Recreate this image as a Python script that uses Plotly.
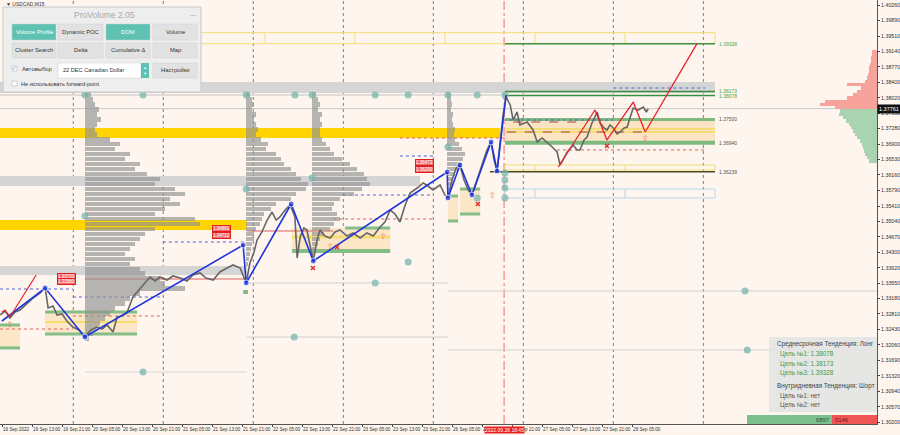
import plotly.graph_objects as go

# ---------------- data ----------------
# x unit: trading hours counted from 19 Sep 2022 00:00 (weekend removed)
tick_hours = [5, 13, 21, 29, 37, 45, 53, 61, 69, 77, 85, 93, 101, 109, 117, 125, 133, 141, 149, 157, 165, 173]
tick_labels = ["19 Sep 2022", "19 Sep 13:00", "19 Sep 21:00", "20 Sep 05:00", "20 Sep 13:00", "20 Sep 21:00",
               "21 Sep 05:00", "21 Sep 13:00", "21 Sep 21:00", "22 Sep 05:00", "22 Sep 13:00", "22 Sep 21:00",
               "23 Sep 05:00", "23 Sep 13:00", "23 Sep 21:00", "26 Sep 05:00", "26 Sep 13:00", "26 Sep 21:00",
               "27 Sep 05:00", "27 Sep 13:00", "27 Sep 21:00", "28 Sep 05:00"]
day_breaks = [24, 48, 72, 96, 120, 144, 168, 192]
price_ticks = [1.40260, 1.39890, 1.39510, 1.39140, 1.38770, 1.38400, 1.38020, 1.37650, 1.37280, 1.36900,
               1.36530, 1.36160, 1.35790, 1.35410, 1.35040, 1.34670, 1.34300, 1.33920, 1.33550, 1.33180,
               1.32810, 1.32430, 1.32060, 1.31690, 1.31320, 1.30940, 1.30570, 1.30200]

price_t = [4.5, 5.8, 7.1, 8.5, 9.8, 11.7, 13.3, 15.1, 16.5, 17.3, 18.6, 19.7, 21.0, 22.3, 23.9, 25.5, 27.1,
           28.7, 30.3, 31.7, 33.0, 34.6, 35.7, 37.0, 38.3, 39.9, 41.8, 43.1, 44.5, 45.8, 47.1, 49.0, 50.6,
           52.5, 54.3, 55.9, 57.8, 59.4, 61.3, 63.1, 65.0, 66.6, 68.5, 69.3, 70.1, 71.1, 72.2, 73.0, 74.3,
           75.7, 77.0, 78.1, 79.1, 80.5, 81.8, 82.6, 83.1, 83.7, 84.5, 85.5, 86.3, 87.1, 88.0, 89.0, 89.8,
           91.1, 92.5, 93.8, 95.1, 97.0, 98.6, 100.5, 102.3, 104.0, 105.8, 107.1, 108.5, 109.8, 111.1, 112.5,
           113.8, 115.7, 117.3, 118.6, 119.9, 121.8, 123.1, 123.9, 125.0, 126.1, 127.1, 128.2, 129.3, 130.3,
           131.7, 133.0, 134.3, 135.4, 136.2, 137.0, 137.8, 138.6, 139.4, 140.5, 141.3, 142.3, 143.1, 145.0,
           146.6, 147.7, 149.0, 150.3, 151.7, 153.0, 153.8, 154.9, 155.7, 157.3, 158.3, 159.1, 160.2, 161.0,
           162.3, 163.7, 164.5, 165.5, 166.3, 167.1, 168.0, 169.0, 169.8, 170.9, 171.7, 172.5, 173.3, 174.6,
           176.0, 176.8, 177.3]
price_v = [1.32783, 1.32879, 1.32710, 1.32855, 1.32903, 1.33072, 1.33193, 1.33313, 1.33434, 1.32952, 1.33000,
           1.32783, 1.32807, 1.32638, 1.32493, 1.32421, 1.32252, 1.32421, 1.32493, 1.32445, 1.32542, 1.32373,
           1.32735, 1.32759, 1.32831, 1.33217, 1.33434, 1.33555, 1.33699, 1.33603, 1.33699, 1.33627, 1.33724,
           1.33675, 1.33603, 1.33748, 1.33796, 1.33675, 1.33627, 1.33820, 1.33916, 1.33989, 1.33916, 1.33724,
           1.33555, 1.34037, 1.34302, 1.34592, 1.34785, 1.35074, 1.35267, 1.35074, 1.35147, 1.35315, 1.35436,
           1.35267, 1.35147, 1.34158, 1.34664, 1.34881, 1.34833, 1.34471, 1.34085, 1.34592, 1.34833, 1.34688,
           1.34640, 1.34785, 1.34833, 1.34688, 1.34761, 1.34640, 1.34761, 1.34688, 1.34905, 1.35026, 1.35315,
           1.35219, 1.35026, 1.35436, 1.35725, 1.35846, 1.35967, 1.35894, 1.35798, 1.35918, 1.35677, 1.35605,
           1.36039, 1.36328, 1.36401, 1.36039, 1.35798, 1.35677, 1.36039, 1.36401, 1.36763, 1.36956, 1.36521,
           1.36256, 1.37004, 1.37607, 1.38041, 1.37848, 1.37486, 1.37679, 1.37366, 1.37438, 1.37245, 1.36956,
           1.37052, 1.36956, 1.36835, 1.36714, 1.36401, 1.36570, 1.36714, 1.36883, 1.36763, 1.36763, 1.37004,
           1.37076, 1.37414, 1.37679, 1.37414, 1.37293, 1.37245, 1.37366, 1.37293, 1.37149, 1.37197, 1.37293,
           1.37317, 1.37559, 1.37776, 1.37727, 1.37800, 1.37679, 1.37761]
last_price = 1.37761

zz_t = [5.0, 16.5, 27.1, 69.3, 70.1, 82.1, 88.0, 123.7, 123.9, 127.1, 130.3, 135.4, 137.0, 139.4]
zz_v = [1.32638, 1.33434, 1.32252, 1.34471, 1.33555, 1.35460, 1.34085, 1.36232, 1.35605, 1.36401,
        1.35677, 1.36956, 1.36256, 1.38089]

fc_t = [153.3, 163.1, 166.3, 173.3, 176.5, 190.3]
fc_v = [1.36353, 1.37727, 1.37004, 1.37920, 1.37197, 1.39328]
fc0_t = [5.0, 5.8, 7.1, 14.1]
fc0_v = [1.32855, 1.32903, 1.32735, 1.33748]

dot_t = [27.1, 42.6, 70.1, 83.1, 87.7, 104.5, 113.3, 123.9, 131.7, 139.1, 27.1, 70.1, 87.7, 123.9, 139.1,
         139.1, 139.1, 139.1, 131.7, 113.3, 104.5, 82.9, 42.6, 203.1, 203.7]
dot_v = [1.38089, 1.38089, 1.38089, 1.38089, 1.38089, 1.38089, 1.38089, 1.38089, 1.38089, 1.38089, 1.35171,
         1.35822, 1.36087, 1.36835, 1.36208, 1.36039, 1.35846, 1.35605, 1.35605, 1.34061, 1.33555, 1.32252,
         1.31408, 1.33362, 1.31939]

cross_t = [87.9, 94.3, 131.9, 166.3]
cross_v = [1.33917, 1.34423, 1.35460, 1.36859]
arrow_t = [7.1, 92.5, 106.6, 135.7, 176.5]
arrow_v = [1.32542, 1.34423, 1.34664, 1.35653, 1.37028]

# volume profiles (shared price bins, widths in volume units)
prof_levels = [1.3810, 1.3798, 1.3786, 1.3774, 1.3762, 1.3750, 1.3738, 1.3726, 1.3714, 1.3702, 1.3690, 1.3678,
               1.3666, 1.3654, 1.3642, 1.3630, 1.3618, 1.3606, 1.3594, 1.3582, 1.3570, 1.3558, 1.3546, 1.3534,
               1.3522, 1.3510, 1.3498, 1.3486, 1.3474, 1.3462, 1.3450, 1.3438, 1.3426, 1.3414, 1.3402, 1.3390,
               1.3378, 1.3366, 1.3354, 1.3342, 1.3330, 1.3318, 1.3306, 1.3294, 1.3282, 1.3270, 1.3258, 1.3246,
               1.3234, 1.3222]
profA_vol = [6, 8, 10, 14, 12, 16, 12, 10, 12, 25, 35, 30, 45, 40, 55, 50, 62, 75, 70, 90, 100, 85, 95, 80, 70,
             110, 115, 70, 60, 55, 50, 45, 40, 50, 45, 55, 60, 75, 80, 100, 55, 45, 40, 30, 25, 20, 15, 12, 8, 4]
profB_vol = [4, 6, 8, 6, 10, 8, 10, 12, 10, 15, 22, 20, 30, 35, 38, 45, 50, 55, 62, 60, 50, 45, 30, 25, 18,
             16, 14, 10, 8, 8, 6, 5, 4, 3, 2, 0, 0, 0, 0, 0, 0, 0, 0, 0, 0, 0, 0, 0, 0, 0]
profC_vol = [4, 6, 8, 6, 10, 8, 10, 8, 8, 10, 14, 18, 22, 30, 38, 45, 52, 55, 58, 50, 42, 28, 22, 20, 25,
             28, 22, 18, 12, 8, 6, 4, 3, 2, 0, 0, 0, 0, 0, 0, 0, 0, 0, 0, 0, 0, 0, 0, 0, 0]
profD_vol = [3, 4, 5, 4, 6, 5, 6, 8, 7, 8, 12, 15, 18, 16, 14, 12, 8, 6, 4, 3, 2, 0, 0, 0, 0,
             0, 0, 0, 0, 0, 0, 0, 0, 0, 0, 0, 0, 0, 0, 0, 0, 0, 0, 0, 0, 0, 0, 0, 0, 0]
prof_starts = [27.1, 70.1, 87.7, 123.7]

dom_ask_levels = [1.3914, 1.3906, 1.3898, 1.3890, 1.3882, 1.3874, 1.3866, 1.3858, 1.3850, 1.3842, 1.3834,
                  1.3826, 1.3818, 1.3810, 1.3802, 1.3794, 1.3786, 1.3778]
dom_ask_vol = [5, 5, 6, 6, 7, 8, 8, 9, 10, 12, 30, 16, 20, 24, 30, 52, 57, 42]
dom_bid_levels = [1.3770, 1.3762, 1.3754, 1.3746, 1.3738, 1.3730, 1.3722, 1.3714, 1.3706, 1.3698, 1.3690,
                  1.3682, 1.3674, 1.3666, 1.3658, 1.3650]
dom_bid_vol = [37, 38, 34, 31, 28, 26, 24, 22, 20, 17, 15, 14, 13, 12, 10, 8]

gray_zones = [(4.47, 195.1, 1.38138, 1.38403), (4.47, 116.5, 1.35894, 1.36135), (4.47, 70.3, 1.33748, 1.33965)]
gold_zones = [(4.47, 137.8, 1.37052, 1.37293), (4.47, 70.3, 1.34833, 1.35074)]
targets = [1.39328, 1.38173, 1.38078]
zone_hi, zone_lo = 1.37500, 1.36940
support_line = 1.36238
target_labels = ["1.39328", "1.38173", "1.38078"]
buy_volume, sell_volume = 6897, 5146
mid_targets = ["1.38078", "1.38173", "1.39328"]

# ---------------- layout constants ----------------
W, H = 900, 435
MR, MB = 23, 11
PW, PH = W - MR, H - MB
X_RANGE = [4.467, 238.3]
Y_RANGE = [1.301537, 1.403806]
HOURS_PER_UNIT = 1 / 3.75
FONT = "Liberation Sans"

def px(x):
    return x / PW

def py(y):
    return 1 - y / PH

shapes, annotations = [], []

def rect(t0, t1, p0, p1, fill, line="rgba(0,0,0,0)", lw=0, layer="below"):
    shapes.append(dict(type="rect", xref="x", yref="y", x0=t0, x1=t1, y0=p0, y1=p1,
                       fillcolor=fill, line=dict(color=line, width=lw), layer=layer))

def seg(t0, t1, p, color, width=1, dash="solid", layer="below"):
    shapes.append(dict(type="line", xref="x", yref="y", x0=t0, x1=t1, y0=p, y1=p,
                       line=dict(color=color, width=width, dash=dash), layer=layer))

def vseg(t, p0, p1, color, width=1):
    shapes.append(dict(type="line", xref="x", yref="y", x0=t, x1=t, y0=p0, y1=p1,
                       line=dict(color=color, width=width), layer="below"))

# bands
for t0, t1, p0, p1 in gray_zones:
    rect(t0, t1, p0, p1, "#D5D5D5")
for t0, t1, p0, p1 in gold_zones:
    rect(t0, t1, p0, p1, "#FFD400")

# thin level lines
seg(4.47, 139.1, 1.38089, "#C4C4C4", 1)
seg(4.47, X_RANGE[1], last_price, "#C8C8C8", 1)
seg(70.3, 124, 1.33555, "#D0D0D0", 1)
seg(70.3, 124, 1.32252, "#D0D0D0", 1)
seg(124, X_RANGE[1], 1.33362, "#D0D0D0", 1)
seg(124, X_RANGE[1], 1.31939, "#D0D0D0", 1)
seg(27.1, 70.3, 1.31408, "#D6D6D6", 1)

# zones (left)
rect(4.47, 9.8, 1.31988, 1.32542, "#FBE6C8")
seg(4.47, 9.8, 1.32542, "#84BD86", 3)
seg(4.47, 9.8, 1.31988, "#84BD86", 3)
rect(16.5, 41.0, 1.32325, 1.32855, "#FBE6C8")
seg(16.5, 41.0, 1.32855, "#84BD86", 3)
seg(16.5, 41.0, 1.32614, "#F5DD70", 2)
seg(16.5, 41.0, 1.32325, "#84BD86", 3)
rect(82.3, 108.5, 1.34327, 1.34881, "#FBE6C8")
seg(96.5, 108.5, 1.34881, "#84BD86", 3)
seg(82.3, 108.5, 1.34664, "#F5DD70", 3)
seg(82.3, 108.5, 1.34327, "#84BD86", 4)
rect(123.9, 126.6, 1.35050, 1.35653, "#FBE6C8")
seg(123.9, 126.6, 1.35653, "#84BD86", 3)
seg(123.9, 126.6, 1.35050, "#84BD86", 3)
rect(127.1, 132.5, 1.35219, 1.35822, "#FBE6C8")
seg(127.1, 132.5, 1.35822, "#84BD86", 3)
seg(127.1, 132.5, 1.35219, "#84BD86", 3)
seg(69.3, 70.6, 1.33338, "#84BD86", 4)

# right zone
rect(57.8, 195.1, targets[0], targets[0] + 0.00265, "rgba(0,0,0,0)", "#F3DE78", 1)
for d in [75.1, 99.1, 123.1, 147.1, 171.1]:
    vseg(d, targets[0], targets[0] + 0.00265, "#F3DE78", 1)
rect(139.1, 195.1, zone_lo, zone_hi, "#FBE4C4")
seg(139.1, 195.1, 1.37270, "#F5DA60", 1.5)
seg(139.1, 195.1, 1.37197, "#F5DA60", 1.5)
seg(139.1, 195.1, zone_hi, "#7DBA80", 3)
seg(139.1, 195.1, zone_lo, "#7DBA80", 4)
for p in targets:
    seg(139.1, 195.1, p, "#3C8F3C", 1.5)
rect(139.1, 195.1, 1.36280, 1.36401, "rgba(0,0,0,0)", "#F3DE78", 1)
rect(139.1, 195.1, 1.35605, 1.35822, "rgba(0,0,0,0)", "#B9D7E6", 1)
for d in [147.1, 171.1]:
    vseg(d, 1.36280, 1.36401, "#F3DE78", 1)
    vseg(d, 1.35605, 1.35822, "#B9D7E6", 1)
seg(135.1, 195.1, support_line, "#4A4A2A", 1.5)

# red / blue helper lines
seg(27.1, 70.3, 1.33651, "#E06060", 1)
seg(70.3, 93.3, 1.34809, "#E06060", 1)
seg(23.9, 47.9, 1.32759, "#E06060", 1, "dot")
seg(4.47, 23.9, 1.32445, "#E06060", 1, "dot")
seg(93.3, 119.9, 1.35099, "#E06060", 1, "dot")
seg(111.1, 139.1, 1.37052, "#E06060", 1, "dot")
seg(153.0, 192.5, 1.36763, "#E06060", 1, "dot")
seg(4.47, 23.9, 1.33410, "#5060E0", 1, "dot")
seg(23.9, 47.9, 1.33217, "#5060E0", 1, "dot")
seg(47.9, 70.3, 1.34544, "#5060E0", 1, "dot")
seg(95.9, 119.9, 1.35677, "#5060E0", 1, "dot")
seg(111.1, 120.0, 1.36618, "#5060E0", 1, "dot")
seg(138.6, 168.0, 1.37486, "#5060E0", 1, "dot")
seg(168.0, 192.5, 1.38258, "#5060E0", 1, "dot")
seg(141.3, 159.7, 1.37438, "#A04040", 1, "dash")
seg(139.6, 177.0, 1.37197, "#A04040", 1, "dash")

# day separators and current-session marker
for d in day_breaks:
    shapes.append(dict(type="line", xref="x", yref="paper", x0=d, x1=d, y0=0, y1=1,
                       line=dict(color="#808080", width=1, dash="dot"), layer="below"))
shapes.append(dict(type="line", xref="x", yref="paper", x0=138.87, x1=138.87, y0=0, y1=1,
                   line=dict(color="#F07070", width=1, dash="dashdot"), layer="below"))

fig = go.Figure()

# volume profiles
for vols, start in zip([profA_vol, profB_vol, profC_vol, profD_vol], prof_starts):
    fig.add_trace(go.Bar(orientation="h", y=prof_levels, x=[v * HOURS_PER_UNIT for v in vols], base=start,
                         width=0.00105, marker=dict(color="rgba(145,145,145,0.66)", line=dict(width=0)),
                         hoverinfo="skip", showlegend=False))
fig.add_trace(go.Bar(orientation="h", y=dom_ask_levels, x=[-v * HOURS_PER_UNIT for v in dom_ask_vol],
                     base=X_RANGE[1], width=0.0008, marker=dict(color="#F7A39C", line=dict(width=0)),
                     hoverinfo="skip", showlegend=False))
fig.add_trace(go.Bar(orientation="h", y=dom_bid_levels, x=[-v * HOURS_PER_UNIT for v in dom_bid_vol],
                     base=X_RANGE[1], width=0.0008, marker=dict(color="#AAD3B2", line=dict(width=0)),
                     hoverinfo="skip", showlegend=False))

# teal dots
fig.add_trace(go.Scatter(x=dot_t, y=dot_v, mode="markers",
                         marker=dict(size=7, color="rgba(120,182,172,0.75)"), hoverinfo="skip", showlegend=False))
# price
fig.add_trace(go.Scatter(x=price_t, y=price_v, mode="lines", line=dict(color="#666666", width=1.6),
                         hoverinfo="skip", showlegend=False))
# zigzag
fig.add_trace(go.Scatter(x=zz_t, y=zz_v, mode="lines+markers", line=dict(color="#1F35DD", width=1.6),
                         marker=dict(size=[0] + [6] * (len(zz_t) - 2) + [0], color="#1F35DD"),
                         hoverinfo="skip", showlegend=False))
# forecast
fig.add_trace(go.Scatter(x=fc_t, y=fc_v, mode="lines", line=dict(color="#E8232B", width=1.3),
                         hoverinfo="skip", showlegend=False))
fig.add_trace(go.Scatter(x=fc0_t, y=fc0_v, mode="lines", line=dict(color="#E8232B", width=1.2),
                         hoverinfo="skip", showlegend=False))
fig.add_trace(go.Scatter(x=cross_t, y=cross_v, mode="markers",
                         marker=dict(symbol="x-thin", size=4, color="#E03030", line=dict(width=1.5, color="#E03030")),
                         hoverinfo="skip", showlegend=False))
fig.add_trace(go.Scatter(x=arrow_t, y=arrow_v, mode="text", text=["⇧"] * len(arrow_t),
                         textfont=dict(size=8, color="#F07A6A", family="DejaVu Sans"),
                         hoverinfo="skip", showlegend=False))

# level labels
lvl_x = 195.7
for txt, p, dy in [(target_labels[0], targets[0], 0), (target_labels[1], targets[1], 1), (target_labels[2], targets[2], -1)]:
    annotations.append(dict(x=lvl_x, y=p, text=txt, showarrow=False, xanchor="left", yanchor="middle",
                            yshift=dy, font=dict(size=5, color="#4CA64C", family=FONT)))
for txt, p in [("1.37500", zone_hi), ("1.36940", zone_lo), ("1.36239", support_line)]:
    annotations.append(dict(x=lvl_x, y=p, text=txt, showarrow=False, xanchor="left", yanchor="middle",
                            font=dict(size=5, color="#555555", family=FONT)))

# red price tags on chart
for t, p, txt in [(22.3, 1.33700, "1.33700"), (22.3, 1.33580, "1.33580"), (63.5, 1.34881, "1.34881"),
                  (63.5, 1.34712, "1.34712"), (117.7, 1.36473, "1.36473"), (117.7, 1.36290, "1.36290")]:
    annotations.append(dict(x=t, y=p, text=txt, showarrow=False, xanchor="center", yanchor="middle",
                            font=dict(size=4.5, color="white", family=FONT), bgcolor="#F07070",
                            bordercolor="#E02020", borderwidth=1, borderpad=0))

# current price + time marker
annotations.append(dict(xref="paper", x=1.0, y=last_price, text="1.37761", showarrow=False, xanchor="left",
                        yanchor="middle", font=dict(size=5.5, color="white", family=FONT), bgcolor="#111111",
                        borderpad=1))
annotations.append(dict(x=138.87, yref="paper", y=0, yshift=-2, text="2022.09.26 18:45", showarrow=False,
                        xanchor="center", yanchor="top", font=dict(size=5, color="white", family=FONT),
                        bgcolor="#E82020", borderpad=0))
annotations.append(dict(xref="paper", yref="paper", x=px(4), y=py(4), text="▼ USDCAD,M15", showarrow=False,
                        xanchor="left", yanchor="middle", font=dict(size=5, color="#333", family=FONT)))

# ---- UI overlays (panel, info box, volume bar) ----
def ui_rect(x0, y0, x1, y1, fill, line="rgba(0,0,0,0)", lw=0):
    shapes.append(dict(type="rect", xref="paper", yref="paper", x0=px(x0), x1=px(x1), y0=py(y1), y1=py(y0),
                       fillcolor=fill, line=dict(color=line, width=lw), layer="above"))

def ui_text(x, y, text, size=5.8, color="#333333", xanchor="center", family=FONT):
    annotations.append(dict(xref="paper", yref="paper", x=px(x), y=py(y), text=text, showarrow=False,
                            xanchor=xanchor, yanchor="middle", font=dict(size=size, color=color, family=family)))

ui_rect(3, 7, 201, 92, "#EEEEEE", "#C8C8C8", 1)
ui_text(104, 14.5, "ProVolume 2.05", 8.5, "#A9A9A9")
ui_text(193, 14.5, "—", 6, "#999999")
TEAL, GREY = "#5EC2B3", "#E2E2E2"
btn_cols = [(12, 56), (58, 103), (106, 150), (153, 197)]
row1 = [("Volume Profile", True), ("Dynamic POC", False), ("DOM", True), ("Volume", False)]
row2 = [("Cluster Search", False), ("Delta", False), ("Cumulative Δ", False), ("Map", False)]
for (x0, x1), (lab, on) in zip(btn_cols, row1):
    ui_rect(x0, 24, x1, 40, TEAL if on else GREY, "#CFCFCF", 0.5)
    ui_text((x0 + x1) / 2, 32.5, lab, 5.8, "white" if on else "#333333")
for (x0, x1), (lab, on) in zip(btn_cols, row2):
    ui_rect(x0, 43, x1, 58, TEAL if on else GREY, "#CFCFCF", 0.5)
    ui_text((x0 + x1) / 2, 50.5, lab, 5.8, "#333333")
ui_rect(12, 66, 17, 71, "white", "#AAAAAA", 0.5)
ui_text(14.5, 68, "✓", 5.5, "#3AA89A", family="DejaVu Sans")
ui_text(20, 69, "Автовыбор", 5.8, "#333333", "left")
ui_rect(58, 63, 141, 78, "white", "#CCCCCC", 0.5)
ui_text(61, 70.5, "22 DEC Canadian Dollar", 5.6, "#333333", "left")
ui_rect(141, 63, 149, 78, TEAL)
ui_text(145, 67.5, "▴", 4.5, "white", family="DejaVu Sans")
ui_text(145, 73.5, "▾", 4.5, "white", family="DejaVu Sans")
ui_rect(153, 63, 197, 78, GREY, "#CFCFCF", 0.5)
ui_text(175, 70.5, "Настройки", 5.8, "#333333")
ui_rect(12, 81, 17, 86, "white", "#AAAAAA", 0.5)
ui_text(19, 84, "Не использовать forward-point", 5.6, "#333333", "left")

ui_rect(769, 337, 877, 412, "rgba(228,228,228,0.92)")
ui_text(775, 344, "Среднесрочная Тенденция: Лонг", 6.3, "#444444", "left")
for i, t in enumerate(mid_targets):
    ui_text(778, 354 + 9.5 * i, f"Цель №{i + 1}: {t}", 6.3, "#3E9A3E", "left")
ui_text(775, 386, "Внутридневная Тенденция: Шорт", 6.3, "#444444", "left")
ui_text(778, 396, "Цель №1: нет", 6.3, "#555555", "left")
ui_text(778, 405, "Цель №2: нет", 6.3, "#555555", "left")

ui_rect(747, 415, 832, 424, "#7CBF8E")
ui_rect(832, 415, 877, 424, "#F05555")
ui_text(831, 419.5, str(buy_volume), 5.8, "#2E4E36", "right")
ui_text(833, 419.5, str(sell_volume), 5.8, "#7A1010", "left")

fig.update_layout(
    width=W, height=H, margin=dict(l=0, r=MR, t=0, b=MB, pad=0),
    paper_bgcolor="#FDF5EE", plot_bgcolor="#FDF5EE",
    barmode="overlay", bargap=0, showlegend=False,
    shapes=shapes, annotations=annotations,
    xaxis=dict(range=X_RANGE, tickvals=tick_hours, ticktext=tick_labels, ticklabelposition="outside right",
               tickangle=0, ticks="outside", ticklen=2, tickcolor="#444",
               tickfont=dict(size=4.6, color="#333", family=FONT),
               showgrid=False, zeroline=False, showline=True, linecolor="#555", linewidth=1, mirror=True,
               fixedrange=True, automargin=False),
    yaxis=dict(range=Y_RANGE, side="right", tickvals=price_ticks, ticktext=[f"{v:.5f}" for v in price_ticks],
               ticks="outside", ticklen=2, tickcolor="#444", tickfont=dict(size=5.3, color="#333", family=FONT),
               showgrid=False, zeroline=False, showline=True, linecolor="#555", linewidth=1, mirror=True,
               fixedrange=True, automargin=False),
    font=dict(family=FONT),
)

fig.write_html("out.html", config={"displayModeBar": False},
               post_script="document.body.style.margin='0px';document.body.style.overflow='hidden';")
